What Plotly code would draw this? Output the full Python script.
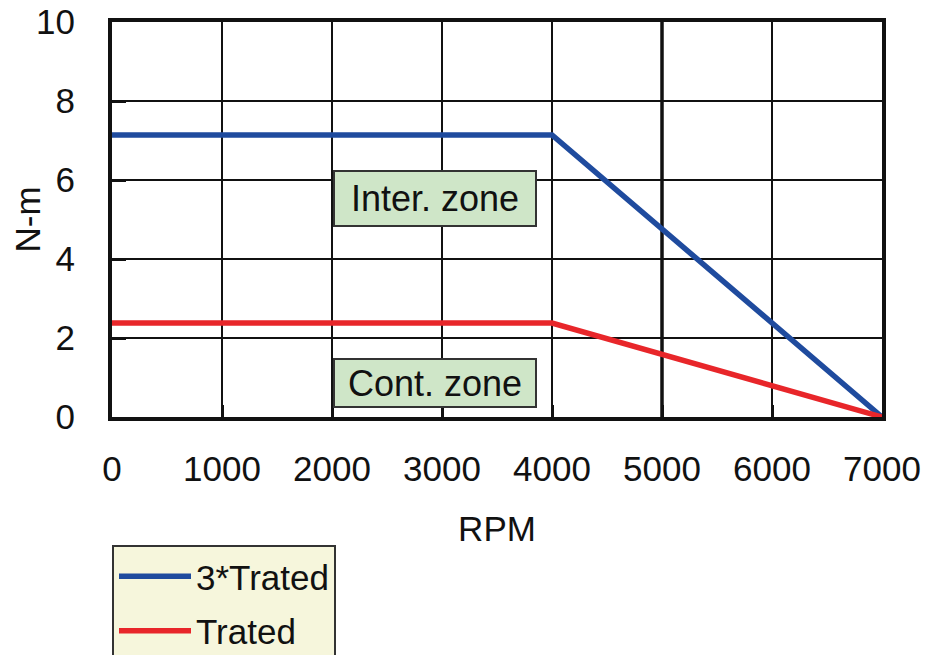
import plotly.graph_objects as go

# Data
rpm = [0, 4000, 7000]
torque_3trated = [7.14, 7.14, 0.0]
torque_trated = [2.38, 2.38, 0.0]
series_names = ["3*Trated", "Trated"]
x_ticks = [0, 1000, 2000, 3000, 4000, 5000, 6000, 7000]
y_ticks = [0, 2, 4, 6, 8, 10]
zone_labels = ["Inter. zone", "Cont. zone"]
zone_x = [2936, 2936]
zone_y = [5.54, 0.86]

FONT = "Liberation Sans, Arial, sans-serif"
FS = 35

fig = go.Figure()
fig.add_trace(go.Scatter(x=rpm, y=torque_3trated, mode="lines", name=series_names[0],
                         line=dict(color="#1f4b9e", width=5.5), legendgroup="a"))
fig.add_trace(go.Scatter(x=rpm, y=torque_trated, mode="lines", name=series_names[1],
                         line=dict(color="#e8262a", width=5.5), legendgroup="b"))

for lab, xx, yy, h in zip(zone_labels, zone_x, zone_y, [51, 44]):
    fig.add_annotation(x=xx, y=yy, xref="x", yref="y", text=lab, showarrow=False,
                       font=dict(family=FONT, size=36, color="#111"),
                       bgcolor="#cfe6c8", bordercolor="#333", borderwidth=2,
                       width=198, height=h, align="center")

fig.update_layout(
    width=935, height=655,
    margin=dict(l=104, r=61, t=14, b=246, autoexpand=False),
    paper_bgcolor="white", plot_bgcolor="white",
    font=dict(family=FONT, size=FS, color="#111"),
    showlegend=True,
    legend=dict(x=0.0, y=-0.324, xanchor="left", yanchor="top",
                bgcolor="#f6f6dc", bordercolor="#333", borderwidth=2,
                font=dict(family=FONT, size=FS, color="#111"),
                traceorder="grouped", tracegroupgap=6, itemwidth=72),
)
fig.update_xaxes(range=[0, 7000], tickvals=x_ticks, ticktext=[str(v) for v in x_ticks],
                 automargin=False, ticklabeloverflow="allow",
                 showgrid=True, gridcolor="#111", gridwidth=1.6,
                 showline=True, linecolor="#111", linewidth=4, mirror=True,
                 ticks="inside", ticklen=12, tickwidth=3, tickcolor="#111",
                 ticklabelstandoff=18, zeroline=False,
                 title=dict(text="RPM", font=dict(family=FONT, size=FS), standoff=30))
fig.update_yaxes(range=[0, 10], tickvals=y_ticks, ticktext=[str(v) for v in y_ticks],
                 automargin=False, ticklabeloverflow="allow",
                 showgrid=True, gridcolor="#111", gridwidth=1.6,
                 showline=True, linecolor="#111", linewidth=4, mirror=True,
                 ticks="inside", ticklen=14, tickwidth=3, tickcolor="#111",
                 ticklabelstandoff=26, zeroline=False,
                 title=dict(text="N-m", font=dict(family=FONT, size=FS), standoff=0))

fig.add_shape(type="line", xref="x", yref="paper", x0=5000, x1=5000, y0=0, y1=1,
              line=dict(color="#111", width=3.5), layer="below")

fig.write_html("out.html")
